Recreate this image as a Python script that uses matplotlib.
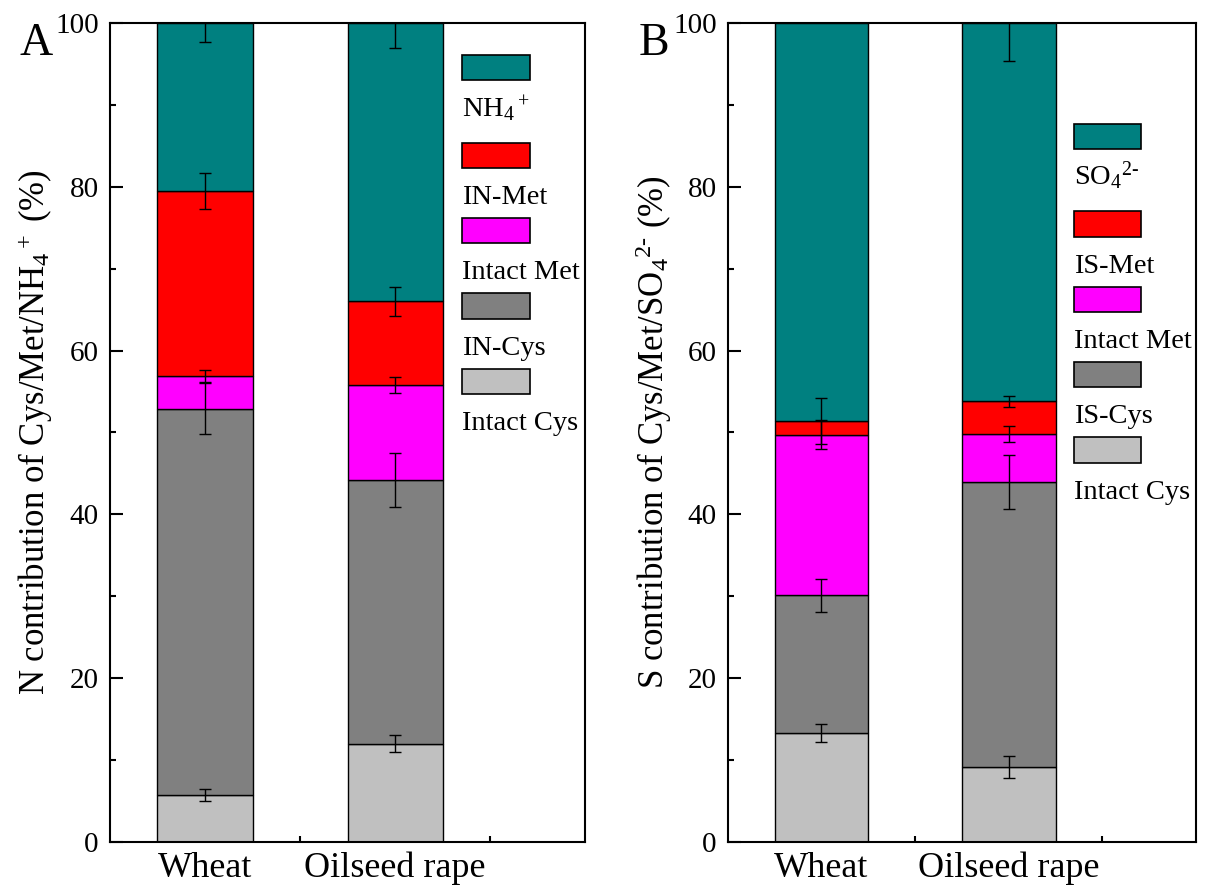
import numpy as np
import matplotlib.pyplot as plt
from matplotlib.patches import Rectangle
from matplotlib.ticker import MultipleLocator, FixedLocator

plt.rcParams['font.family'] = 'Liberation Serif'
plt.rcParams['mathtext.fontset'] = 'custom'
plt.rcParams['mathtext.rm'] = 'Liberation Serif'
plt.rcParams['mathtext.it'] = 'Liberation Serif:italic'

crops = ['Wheat', 'Oilseed rape']

# segments from bottom to top
n_labels = ['Intact Cys', 'IN-Cys', 'Intact Met', 'IN-Met', r'NH$_4{}^+$']
s_labels = ['Intact Cys', 'IS-Cys', 'Intact Met', 'IS-Met', r'SO$_4{}^{2\text{-}}$']

n_wheat = [5.7, 47.2, 4.0, 22.6, 20.5]
n_wheat_err = [0.75, 3.1, 0.7, 2.2, 2.3]
n_rape = [12.0, 32.2, 11.6, 10.2, 34.0]
n_rape_err = [1.0, 3.3, 1.0, 1.8, 3.0]

s_wheat = [13.3, 16.8, 19.65, 1.65, 48.6]
s_wheat_err = [1.15, 2.0, 1.75, 2.8, 0.0]
s_rape = [9.1, 34.8, 5.9, 4.0, 46.2]
s_rape_err = [1.35, 3.3, 0.95, 0.65, 4.6]

colors = ['#C0C0C0', '#808080', '#FF00FF', '#FF0000', '#008080']


def draw_panel(ax, wheat, wheat_err, rape, rape_err, labels, tag, ylabel, leg_top):
    x = np.arange(1, len(crops) + 1)
    vals = np.array([wheat, rape])
    errs = np.array([wheat_err, rape_err])
    bottom = np.zeros(len(crops))
    for i in range(vals.shape[1]):
        ax.bar(x, vals[:, i], width=0.5, bottom=bottom, color=colors[i],
               edgecolor='black', linewidth=1, zorder=2)
        top = bottom + vals[:, i]
        has_err = errs[:, i] > 0
        ax.errorbar(x[has_err], top[has_err], yerr=errs[has_err, i], fmt='none',
                    ecolor='black', elinewidth=1, capsize=4.5, capthick=1, zorder=3)
        bottom = top

    ax.set_xlim(0.5, 3.0)
    ax.set_ylim(0, 100)
    ax.set_xticks(x)
    ax.set_xticklabels(crops)
    ax.xaxis.set_minor_locator(FixedLocator([1.5, 2.5]))
    ax.yaxis.set_major_locator(MultipleLocator(20))
    ax.yaxis.set_minor_locator(MultipleLocator(10))
    ax.tick_params(axis='both', which='major', direction='in', length=9, width=1.5)
    ax.tick_params(axis='both', which='minor', direction='in', length=4.5, width=1.5)
    ax.tick_params(axis='x', which='major', labelsize=26, pad=7)
    ax.tick_params(axis='y', which='major', labelsize=21, pad=8)
    for sp in ax.spines.values():
        sp.set_linewidth(1.5)
    ax.set_ylabel(ylabel, fontsize=25)
    ax.yaxis.set_label_coords(-0.115, 0.5)
    ax.text(-0.19, 0.961, tag, transform=ax.transAxes, fontsize=33,
            ha='left', va='baseline')

    # legend: patch above each label, top entry first
    y = leg_top
    for j, i in enumerate(range(len(labels) - 1, -1, -1)):
        ax.add_patch(Rectangle((0.74, y - 0.031), 0.143, 0.031, transform=ax.transAxes,
                               facecolor=colors[i], edgecolor='black', linewidth=1.2,
                               clip_on=False, zorder=4))
        ax.text(0.74, y - 0.075, labels[i], transform=ax.transAxes, fontsize=20.5,
                ha='left', va='baseline')
        y -= 0.107 if j == 0 else 0.092


fig = plt.figure(figsize=(12.07, 8.88), dpi=100)
ax1 = fig.add_axes([0.091, 0.052, 0.394, 0.922])
ax2 = fig.add_axes([0.603, 0.052, 0.388, 0.922])

draw_panel(ax1, n_wheat, n_wheat_err, n_rape, n_rape_err, n_labels, 'A',
           r'N contribution of Cys/Met/NH$_4{}^+$ (%)', 0.961)
draw_panel(ax2, s_wheat, s_wheat_err, s_rape, s_rape_err, s_labels, 'B',
           r'S contribution of Cys/Met/SO$_4{}^{2\text{-}}$ (%)', 0.877)

fig.savefig('out.png', dpi=100)
